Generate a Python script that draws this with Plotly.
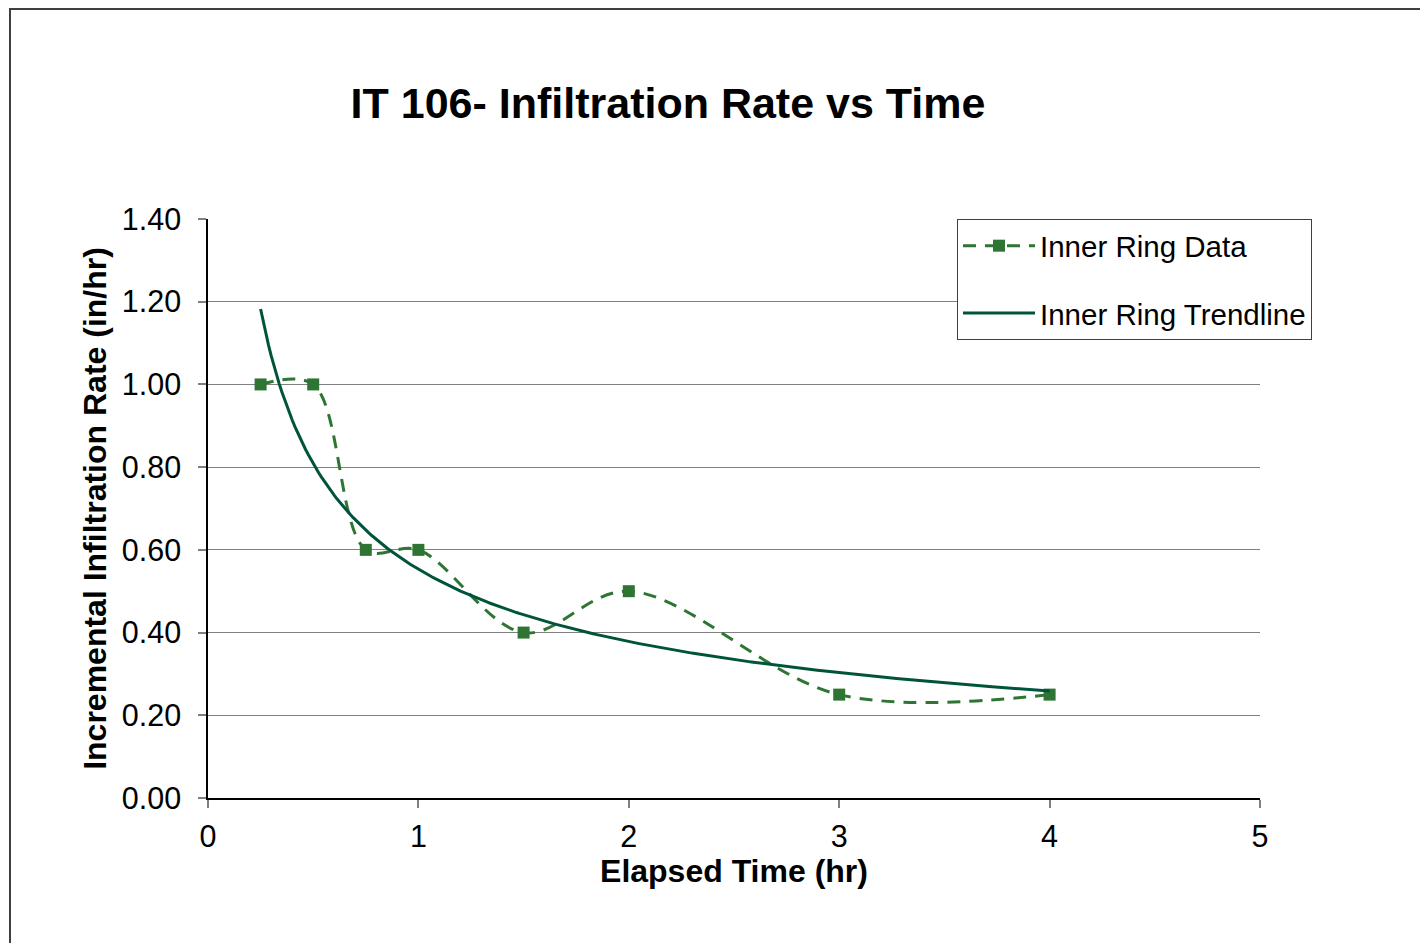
import numpy as np
import plotly.graph_objects as go

# Data
elapsed_time_hr = [0.25, 0.5, 0.75, 1.0, 1.5, 2.0, 3.0, 4.0]
infiltration_rate = [1.00, 1.00, 0.60, 0.60, 0.40, 0.50, 0.25, 0.25]
y_ticks = [0.0, 0.2, 0.4, 0.6, 0.8, 1.0, 1.2, 1.4]
x_ticks = [0, 1, 2, 3, 4, 5]

# Power trendline fitted to the data (as in the spreadsheet)
b, ln_a = np.polyfit(np.log(elapsed_time_hr), np.log(infiltration_rate), 1)
x_fit = np.linspace(min(elapsed_time_hr), max(elapsed_time_hr), 300)
y_fit = np.exp(ln_a) * x_fit ** b

OFF = 8  # page body margin
W, H = 1428 - OFF, 943 - OFF
L, R, T, B = 208 - OFF, 1260 - OFF, 219 - OFF, 798 - OFF
pw, ph = R - L, B - T

FONT = "Liberation Sans, Arial, sans-serif"
DATA_COLOR = "#2E7533"
TREND_COLOR = "#00543C"

fig = go.Figure()
fig.add_trace(go.Scatter(
    x=elapsed_time_hr, y=infiltration_rate, mode="lines+markers",
    name="Inner Ring Data", legendgroup="a",
    line=dict(color=DATA_COLOR, width=3, dash="13px,9px", shape="spline", smoothing=1.0),
    marker=dict(symbol="square", size=12, color=DATA_COLOR),
))
fig.add_trace(go.Scatter(
    x=x_fit, y=y_fit, mode="lines", name="Inner Ring Trendline", legendgroup="b",
    line=dict(color=TREND_COLOR, width=3),
))

fig.update_layout(
    width=W, height=H,
    margin=dict(l=L, r=W - R, t=T, b=H - B),
    paper_bgcolor="white", plot_bgcolor="white",
    font=dict(family=FONT, color="black", size=29),
    title=dict(text="<b>IT 106- Infiltration Rate vs Time</b>", font=dict(size=43, family=FONT),
               xref="paper", x=(668 - OFF - L) / pw, xanchor="center",
               yref="container", y=1 - (103 - OFF) / H, yanchor="middle"),
    showlegend=True,
    legend=dict(x=(957 - OFF - L) / pw, y=1.0, xanchor="left", yanchor="top",
                bordercolor="#404040", borderwidth=1, bgcolor="white",
                font=dict(size=29.5, family=FONT), itemwidth=72,
                tracegroupgap=26, traceorder="grouped"),
    shapes=[dict(type="rect", xref="paper", yref="paper",
                 x0=(10 - OFF - L) / pw, x1=1.4, y0=-0.5, y1=(B - 1) / ph,
                 line=dict(color="#404040", width=2), fillcolor="rgba(0,0,0,0)", layer="below")],
)

fig.update_xaxes(
    range=[0, 5], tickvals=x_ticks, ticktext=[str(v) for v in x_ticks],
    showgrid=False, zeroline=False, showline=True, linecolor="black", linewidth=1.5,
    ticks="outside", ticklen=8, tickcolor="#808080", tickwidth=1.5,
    tickfont=dict(size=30.5), ticklabelstandoff=3,
    title=dict(text="<b>Elapsed Time (hr)</b>", font=dict(size=32), standoff=4),
)
fig.update_yaxes(
    range=[0, 1.4], tickvals=y_ticks, ticktext=[f"{v:.2f}" for v in y_ticks],
    showgrid=True, gridcolor="#808080", gridwidth=1,
    zeroline=False, showline=True, linecolor="black", linewidth=1.5,
    ticks="outside", ticklen=8, tickcolor="#808080", tickwidth=1.5,
    tickfont=dict(size=30.5), ticklabelstandoff=11,
    title=dict(text="<b>Incremental Infiltration Rate (in/hr)</b>", font=dict(size=32), standoff=6),
)

fig.write_html("out.html")
